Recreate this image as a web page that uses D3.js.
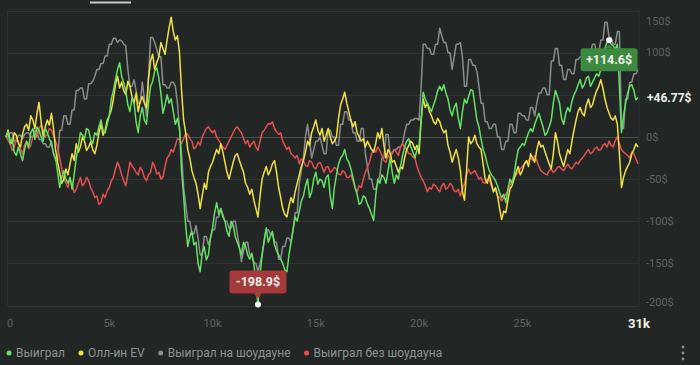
<!DOCTYPE html>
<html>
<head>
<meta charset="utf-8">
<script src="https://cdn.jsdelivr.net/npm/d3@7"></script>
<style>
    body { margin: 0; background: #222625; }
    svg { display: block; font-family: Roboto, "Noto Sans", sans-serif; }
</style>
</head>
<body>
<div id="canvas"></div>
<script>
"use strict"

let svgWidth = 700
let svgHeight = 365

/* Data: one value every 100 hands */
let handStep = 100
let totalHands = 30600

let seriesNames = ["Выиграл", "Олл-ин EV", "Выиграл на шоудауне", "Выиграл без шоудауна"]
let seriesColors = ["#63e263", "#f2e23d", "#8c8c8c", "#e4504e"]

let won = [
    0, 6, -8, -2, -18, -22, -12, -20, -28, -15,
    -5, -12, 5, 10, -3, 12, 8, 0, -5, 10,
    5, -2, -8, -20, -25, -42, -60, -48, -40, -50,
    -55, -48, -62, -45, -25, -12, 5, 2, -2, 10,
    8, -3, -8, 5, 2, 12, 20, 8, 5, 15,
    25, 45, 55, 68, 80, 88, 72, 64, 55, 38,
    30, 46, 40, 18, 5, 25, 35, 20, 15, 40,
    60, 66, 78, 82, 70, 52, 28, 38, 50, 40,
    45, 30, 15, 22, 10, -40, -70, -105, -130, -118,
    -112, -128, -125, -150, -160, -138, -130, -146, -140, -120,
    -108, -90, -78, -92, -85, -95, -100, -112, -118, -100,
    -105, -118, -125, -132, -140, -125, -130, -140, -145, -138,
    -150, -175, -198.9, -165, -140, -122, -108, -125, -118, -112,
    -128, -135, -140, -145, -150, -158, -160, -140, -125, -110,
    -95, -100, -88, -76, -70, -58, -50, -72, -65, -50,
    -42, -56, -50, -52, -60, -48, -45, -70, -85, -60,
    -45, -32, -25, -22, -15, -26, -30, -38, -48, -60,
    -68, -80, -78, -70, -72, -80, -85, -92, -99, -70,
    -50, -55, -45, -48, -55, -40, -25, -42, -55, -45,
    -50, -35, -22, -12, -5, -2, -12, -18, -25, -15,
    -10, 20, 53, 45, 40, 35, 30, 38, 45, 55,
    60, 55, 62, 52, 45, 32, 25, 35, 40, 22,
    10, 30, 45, 40, 48, 56, 55, 38, 20, 12,
    -2, -15, -22, -32, -40, -45, -48, -52, -58, -66,
    -72, -68, -78, -62, -50, -55, -45, -28, -15, -12,
    -8, -10, -2, 5, 10, 6, 15, 22, 28, 20,
    12, 2, 5, 12, 20, 40, 55, 48, 40, 22,
    15, 28, 35, 30, 42, 50, 55, 62, 68, 58,
    62, 70, 72, 60, 65, 70, 75, 72, 80, 95,
    105, 112, 114.6, 110, 108, 104, 110, 60, 5, 25,
    40, 52, 60, 62, 55, 44, 46.77
]

let allinEv = [
    0, 8, -5, -8, 5, 2, -8, -12, 3, 12,
    15, 8, 25, 20, 10, 28, 41, 18, 0, 12,
    20, 14, 28, 10, -15, -30, -42, -55, -50, -38,
    -45, -32, -20, -28, -8, -18, -12, 0, -5, -16,
    -12, -6, -15, -20, -10, 5, 15, 2, 8, 20,
    25, 32, 45, 62, 72, 58, 65, 55, 50, 66,
    60, 48, 40, 52, 30, 42, 48, 40, 35, 70,
    90, 98, 80, 88, 95, 112, 105, 98, 115, 130,
    142, 125, 115, 120, 100, 55, 20, 5, -15, -25,
    -40, -48, -55, -68, -85, -70, -55, -62, -42, -35,
    -30, -22, -15, -20, -8, -18, -30, -42, -50, -40,
    -30, -22, -20, -28, -35, -42, -55, -60, -68, -62,
    -75, -85, -95, -70, -50, -42, -35, -45, -40, -32,
    -28, -42, -60, -72, -85, -92, -95, -82, -72, -78,
    -65, -55, -45, -35, -28, -18, -5, -10, 5, 12,
    20, 8, 2, 10, -5, 2, 10, 0, -8, -5,
    0, 22, 38, 45, 53, 40, 30, 20, 12, 18,
    5, 0, -5, -2, -12, -5, -10, -15, -18, -8,
    5, -2, 10, -10, -25, -15, -20, -30, -28, -35,
    -42, -35, -38, -25, -15, -10, -5, -8, -15, -10,
    -20, 20, 45, 35, 40, 30, 25, 18, 15, 22,
    18, 10, 5, 8, -10, -18, -30, -22, -15, -25,
    -40, -65, -75, -40, 0, -8, -5, 2, -8, -12,
    -15, -32, -50, -55, -45, -55, -65, -60, -70, -85,
    -98, -88, -90, -75, -62, -58, -50, -42, -35, -45,
    -40, -32, -28, -35, -20, -25, -30, -15, -5, -12,
    -10, -18, -25, -32, -38, -20, 5, -5, -20, -28,
    -35, -25, -15, -20, -5, 8, 20, 30, 35, 28,
    25, 38, 45, 35, 38, 48, 55, 60, 68, 58,
    45, 35, 28, 22, 20, 25, 15, -20, -60, -48,
    -40, -35, -30, -20, -15, -8, -12
]

let showdown = [
    0, 0, 5, 5, -5, -5, 2, 2, -2, 3,
    5, 5, 0, 0, 8, 8, -3, -3, -8, -8,
    -12, -12, -5, -20, -28, -28, 8, 8, 25, 25,
    15, 15, 32, 32, 55, 55, 58, 58, 45, 45,
    63, 63, 66, 72, 80, 80, 87, 87, 96, 96,
    110, 110, 117, 117, 112, 115, 114, 110, 108, 80,
    60, 60, 68, 55, 40, 40, 65, 45, 25, 70,
    118, 118, 112, 104, 95, 95, 62, 62, 58, 58,
    65, 65, 60, 40, 10, -20, -60, -80, -100, -100,
    -115, -115, -105, -120, -140, -140, -118, -118, -128, -120,
    -110, -110, -95, -95, -85, -92, -100, -100, -108, -108,
    -100, -100, -115, -130, -148, -135, -125, -125, -140, -140,
    -150, -150, -160, -150, -140, -125, -110, -110, -115, -115,
    -125, -125, -145, -145, -130, -130, -120, -120, -125, -110,
    -90, -90, -55, -40, -25, 0, 15, -5, -25, -15,
    -5, -5, 0, -10, -20, -20, 8, 8, 0, 0,
    -10, -10, 15, 15, 30, 30, 20, 20, 5, 5,
    -5, -5, 10, 10, -20, -35, -50, -50, -62, -62,
    -55, -45, -25, -25, 3, 3, -20, -20, -15, -15,
    -12, -12, -8, 5, 15, 15, 20, 20, 22, 22,
    20, 60, 110, 110, 105, 105, 98, 98, 110, 110,
    129, 120, 112, 112, 100, 100, 80, 95, 110, 110,
    112, 95, 60, 60, 92, 92, 85, 85, 78, 60,
    40, 40, 18, 18, 10, 10, 15, 15, 0, 0,
    -15, -15, -5, -5, 15, 15, 5, 5, 28, 28,
    25, 25, 20, 20, 35, 35, 25, 40, 52, 52,
    58, 58, 50, 50, 90, 90, 105, 105, 85, 85,
    68, 68, 80, 80, 75, 75, 92, 92, 95, 95,
    85, 85, 100, 100, 110, 110, 100, 100, 115, 115,
    136, 136, 118, 118, 110, 110, 125, 125, 10, 10,
    45, 45, 65, 65, 75, 75, 80
]

let noShowdown = [
    0, -4, -8, -16, -12, -2, -5, -14, -20, -10,
    -5, -14, -10, 0, 5, 0, 10, 14, 8, 0,
    3, 10, 8, 2, -5, -12, -25, -38, -50, -55,
    -60, -50, -55, -66, -62, -55, -48, -58, -55, -48,
    -52, -60, -65, -72, -70, -80, -78, -68, -72, -64,
    -60, -52, -48, -38, -30, -36, -45, -52, -58, -44,
    -30, -34, -38, -42, -45, -36, -40, -48, -52, -45,
    -42, -30, -35, -44, -42, -50, -48, -35, -25, -22,
    -15, -18, -10, -2, -3, -8, -2, 4, 3, -2,
    -5, -14, -12, -6, -10, 0, 5, 10, 12, 8,
    5, 8, 0, -4, -8, -12, -15, -10, -5, 0,
    5, 10, 12, 8, 5, -2, -8, -4, -12, -8,
    -5, -12, -16, -5, 5, 8, 12, 16, 15, 18,
    10, 6, 3, 5, -5, -10, -15, -12, -20, -22,
    -25, -22, -32, -26, -28, -34, -35, -28, -30, -36,
    -38, -32, -30, -35, -42, -36, -35, -42, -40, -36,
    -38, -44, -45, -40, -42, -48, -48, -45, -52, -60,
    -65, -58, -60, -50, -42, -36, -30, -20, -15, -18,
    -12, -16, -22, -28, -30, -22, -25, -18, -15, -18,
    -22, -12, -8, -12, -15, -20, -20, -24, -25, -35,
    -42, -48, -52, -58, -65, -60, -62, -56, -58, -62,
    -65, -58, -55, -62, -60, -55, -58, -64, -65, -62,
    -70, -62, -55, -45, -38, -44, -42, -40, -45, -50,
    -48, -54, -55, -50, -52, -58, -65, -62, -70, -72,
    -76, -72, -68, -64, -58, -52, -48, -45, -42, -38,
    -35, -32, -30, -28, -25, -28, -22, -28, -35, -40,
    -42, -44, -45, -40, -38, -42, -40, -36, -35, -38,
    -40, -36, -32, -36, -38, -34, -30, -32, -28, -25,
    -22, -18, -15, -20, -18, -14, -12, -16, -15, -10,
    -8, -12, -5, -10, -12, -4, 0, -8, -15, -18,
    -20, -22, -25, -18, -20, -26, -32
]

let xTicks = [0, 5000, 10000, 15000, 20000, 25000]
let xTickLabels = ["0", "5k", "10k", "15k", "20k", "25k"]
let lastHandLabel = "31k"
let yTicks = [150, 100, 50, 0, -50, -100, -150, -200]

let svg = d3.select("#canvas")
    .append("svg")
    .attr("width", svgWidth)
    .attr("height", svgHeight)

svg.append("rect")
    .attr("width", svgWidth)
    .attr("height", svgHeight)
    .attr("fill", "#222625")

// plot area edges
let plotLeft = 7.5, plotRight = 639

let xScale = d3.scaleLinear().domain([0, totalHands]).range([6, 638])
let yScale = d3.scaleLinear().domain([-200, 150]).range([305.5, 10.5])

// small tab marker at the very top
svg.append("rect")
    .attr("x", 90).attr("y", 1.5)
    .attr("width", 41).attr("height", 2)
    .attr("fill", "#c9cbca")

// horizontal grid
svg.selectAll("line.grid")
    .data(yTicks)
    .join("line")
    .attr("class", "grid")
    .attr("x1", plotLeft).attr("x2", plotRight)
    .attr("y1", d => Math.round(yScale(d)) + 0.5)
    .attr("y2", d => Math.round(yScale(d)) + 0.5)
    .attr("stroke", d => d === 0 ? "#4b504e" : "#2f3432")
    .attr("stroke-width", 1)

// vertical borders
svg.selectAll("line.border")
    .data([plotLeft, plotRight])
    .join("line")
    .attr("class", "border")
    .attr("x1", d => d).attr("x2", d => d)
    .attr("y1", yScale(150)).attr("y2", yScale(-200))
    .attr("stroke", "#2f3432")

// series lines: gray, red, yellow, green (green on top)
let seriesData = [won, allinEv, showdown, noShowdown]
let drawOrder = [2, 3, 1, 0]

let line = d3.line()
    .x(function (d, i) { return xScale(i * handStep) })
    .y(function (d) { return yScale(d) })

for (let k of drawOrder) {
    svg.append("path")
        .datum(seriesData[k])
        .attr("d", line)
        .attr("fill", "none")
        .attr("stroke", seriesColors[k])
        .attr("stroke-width", 1.5)
        .attr("stroke-linejoin", "round")
}

// y axis labels on the right (the 50$ one is covered by the last value)
let lastValue = won[won.length - 1]
svg.selectAll("text.ylab")
    .data(yTicks.filter(d => Math.abs(yScale(d) - yScale(lastValue)) > 8))
    .join("text")
    .attr("class", "ylab")
    .attr("x", 646)
    .attr("y", function (d) {
        if (d === 150) return 21.5
        if (d === -200) return 302
        return yScale(d)
    })
    .attr("dy", "0.35em")
    .attr("fill", "#5d6360")
    .style("font-size", "11px")
    .text(d => d + "$")

// x axis labels
svg.selectAll("text.xlab")
    .data(xTicks)
    .join("text")
    .attr("class", "xlab")
    .attr("x", d => d === 0 ? 10 : xScale(d))
    .attr("y", 323)
    .attr("dy", "0.35em")
    .attr("text-anchor", "middle")
    .attr("fill", "#5d6360")
    .style("font-size", "11px")
    .text((d, i) => xTickLabels[i])

svg.append("text")
    .attr("x", 639)
    .attr("y", 323)
    .attr("dy", "0.35em")
    .attr("text-anchor", "middle")
    .attr("fill", "#f2f2f2")
    .style("font-size", "13px")
    .style("font-weight", "bold")
    .text(lastHandLabel)

// final value label
svg.append("text")
    .attr("x", 647)
    .attr("y", yScale(lastValue))
    .attr("dy", "0.35em")
    .attr("fill", "#eef3ec")
    .style("font-size", "12px")
    .style("font-weight", "bold")
    .text("+" + lastValue + "$")

// min / max markers for the "won" line
let minIdx = d3.minIndex(won)
let maxIdx = d3.maxIndex(won)

function marker(idx, label, fill, below) {
    let cx = xScale(idx * handStep)
    let cy = yScale(won[idx])
    let w = 57, h = 23
    let boxY = below ? cy + 8 : cy - 11 - h
    let g = svg.append("g")

    g.append("rect")
        .attr("x", cx - w / 2).attr("y", boxY)
        .attr("width", w).attr("height", h)
        .attr("rx", 3)
        .attr("fill", fill)

    let p = d3.path()
    if (below) {
        p.moveTo(cx - 4, boxY); p.lineTo(cx, boxY - 4); p.lineTo(cx + 4, boxY)
    } else {
        p.moveTo(cx - 4, boxY + h); p.lineTo(cx, boxY + h + 5); p.lineTo(cx + 4, boxY + h)
    }
    p.closePath()
    g.append("path").attr("d", p.toString()).attr("fill", fill)

    g.append("text")
        .attr("x", cx).attr("y", boxY + h / 2)
        .attr("dy", "0.35em")
        .attr("text-anchor", "middle")
        .attr("fill", "#f4eeee")
        .style("font-size", "12.5px")
        .style("font-weight", "bold")
        .text(label)

    g.append("circle")
        .attr("cx", cx).attr("cy", cy).attr("r", 3)
        .attr("fill", "#ffffff")
}

marker(minIdx, won[minIdx] + "$", "#a63a3a", false)
marker(maxIdx, "+" + won[maxIdx] + "$", "#3b8a3e", true)

// legend
let legendX = 9
let legendY = 353
for (let i = 0; i < seriesNames.length; i++) {
    svg.append("circle")
        .attr("cx", legendX).attr("cy", legendY)
        .attr("r", 2.5)
        .attr("fill", seriesColors[i])
    let t = svg.append("text")
        .attr("x", legendX + 7)
        .attr("y", legendY)
        .attr("dy", "0.35em")
        .attr("fill", "#8f9391")
        .style("font-size", "12px")
        .text(seriesNames[i])
    legendX = legendX + 7 + t.node().getComputedTextLength() + 16
}

// menu dots
svg.selectAll("circle.menu")
    .data([347, 353, 359])
    .join("circle")
    .attr("class", "menu")
    .attr("cx", 683).attr("cy", d => d)
    .attr("r", 1.4)
    .attr("fill", "#8a8e8c")
</script>
</body>
</html>
